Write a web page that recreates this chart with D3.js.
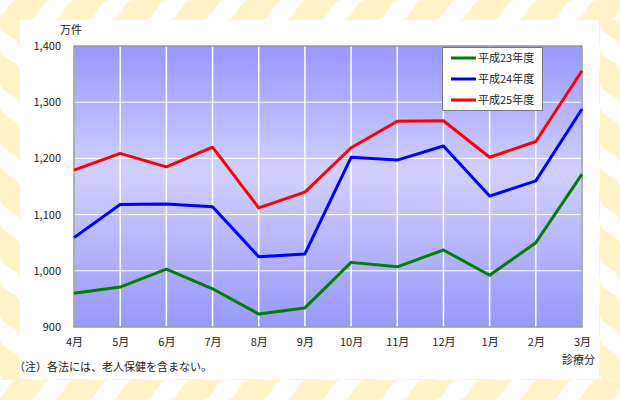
<!DOCTYPE html>
<html><head><meta charset="utf-8">
<script src="https://cdn.jsdelivr.net/npm/d3@7"></script>
<style>body{margin:0;background:#fff}svg{display:block}text{font-family:"Noto Sans CJK JP","DejaVu Sans",sans-serif;fill:#222}</style>
</head><body>
<script>
const months = ["4月","5月","6月","7月","8月","9月","10月","11月","12月","1月","2月","3月"];
const seriesNames = ["平成23年度","平成24年度","平成25年度"];
const seriesColors = ["#008000","#0000ff","#ff0000"];
const h23 = [960,971,1003,968,923,934,1015,1007,1037,992,1050,1172];
const h24 = [1059,1118,1119,1114,1025,1030,1202,1197,1222,1133,1160,1288];
const h25 = [1179,1209,1185,1220,1112,1140,1219,1266,1267,1202,1230,1356];
const yTicks = [900,1000,1100,1200,1300,1400];
const yUnit = "万件";
const xNote = "診療分";
const footNote = "（注）各法には、老人保健を含まない。";

const W=620,H=400;
const svg=d3.select("body").append("svg").attr("width",W).attr("height",H);
const defs=svg.append("defs");
// background patterns
const pH=defs.append("pattern").attr("id","pH").attr("patternUnits","userSpaceOnUse").attr("width",58).attr("height",20).attr("x",-6);
pH.append("path").attr("d","M0,20 C12,20 12,0 24,0 L58,0 C46,0 46,20 34,20 Z").attr("fill","#fff3c8");
const pV=defs.append("pattern").attr("id","pV").attr("patternUnits","userSpaceOnUse").attr("width",20).attr("height",58).attr("y",-10);
pV.append("path").attr("d","M0,0 C0,12 20,12 20,24 L20,58 C20,46 0,46 0,34 Z").attr("fill","#fff3c8");
svg.append("rect").attr("width",W).attr("height",H).attr("fill","#fdfdfd");
svg.append("rect").attr("x",0).attr("y",0).attr("width",W).attr("height",20).attr("fill","url(#pH)");
svg.append("rect").attr("x",0).attr("y",379).attr("width",W).attr("height",21).attr("fill","url(#pH)");
svg.append("rect").attr("x",0).attr("y",20).attr("width",20).attr("height",359).attr("fill","url(#pV)");
svg.append("rect").attr("x",599).attr("y",20).attr("width",21).attr("height",359).attr("fill","url(#pV)");
svg.append("rect").attr("x",20).attr("y",20).attr("width",579).attr("height",359).attr("fill","#fdfdfd");

const m={l:74,t:46,r:582,b:327};
const x=d3.scalePoint().domain(months).range([m.l,m.r]);
const y=d3.scaleLinear().domain([900,1400]).range([m.b,m.t]);

const g=defs.append("linearGradient").attr("id","bg").attr("x1",0).attr("y1",0).attr("x2",0).attr("y2",1);
[[0,"#9898ff"],[0.45,"#d0d0ff"],[1,"#9898fa"]].forEach(s=>g.append("stop").attr("offset",s[0]).attr("stop-color",s[1]));
svg.append("rect").attr("x",m.l).attr("y",m.t).attr("width",m.r-m.l).attr("height",m.b-m.t).attr("fill","url(#bg)");

// grid
svg.append("g").selectAll("line").data(months).join("line")
 .attr("x1",d=>x(d)).attr("x2",d=>x(d)).attr("y1",m.t).attr("y2",m.b).attr("stroke","#fff").attr("stroke-width",1.5);
svg.append("g").selectAll("line").data(yTicks).join("line")
 .attr("x1",m.l).attr("x2",m.r).attr("y1",d=>y(d)).attr("y2",d=>y(d)).attr("stroke","#fff").attr("stroke-width",1);
svg.append("rect").attr("x",m.l).attr("y",m.t).attr("width",m.r-m.l).attr("height",m.b-m.t).attr("fill","none").attr("stroke","#666").attr("stroke-width",1);

// axes
const ya=d3.axisLeft(y).tickValues(yTicks).tickSize(0).tickPadding(13).tickFormat(d3.format(","));
const yg=svg.append("g").attr("transform",`translate(${m.l},0)`).call(ya);
yg.select(".domain").remove();
yg.selectAll("text").style("font-size","11px").attr("fill","#333");
const xa=d3.axisBottom(x).tickSize(0).tickPadding(11);
const xg=svg.append("g").attr("transform",`translate(0,${m.b})`).call(xa);
xg.select(".domain").remove();
xg.selectAll("text").style("font-size","11px").attr("fill","#333");

svg.append("text").attr("x",60).attr("y",34).style("font-size","11px").attr("fill","#333").text(yUnit);
svg.append("text").attr("x",595).attr("y",364).attr("text-anchor","end").style("font-size","11px").attr("fill","#333").text(xNote);
svg.append("text").attr("x",14).attr("y",371).style("font-size","11px").attr("fill","#333").text(footNote);

// lines
const line=d3.line().x((d,i)=>x(months[i])).y(d=>y(d));
[h23,h24,h25].forEach((s,i)=>{
  svg.append("path").datum(s).attr("d",line).attr("fill","none").attr("stroke",seriesColors[i]).attr("stroke-width",3).attr("stroke-linejoin","round");
});

// legend
const lg=svg.append("g");
lg.append("rect").attr("x",442.5).attr("y",47.5).attr("width",100).attr("height",63).attr("fill","#fff").attr("stroke","#777");
seriesNames.forEach((n,i)=>{
  const yy=58+i*21;
  lg.append("line").attr("x1",451).attr("x2",476).attr("y1",yy).attr("y2",yy).attr("stroke",seriesColors[i]).attr("stroke-width",3);
  lg.append("text").attr("x",478).attr("y",yy+4).style("font-size","11px").attr("fill","#333").text(n);
});
</script>
</body></html>
